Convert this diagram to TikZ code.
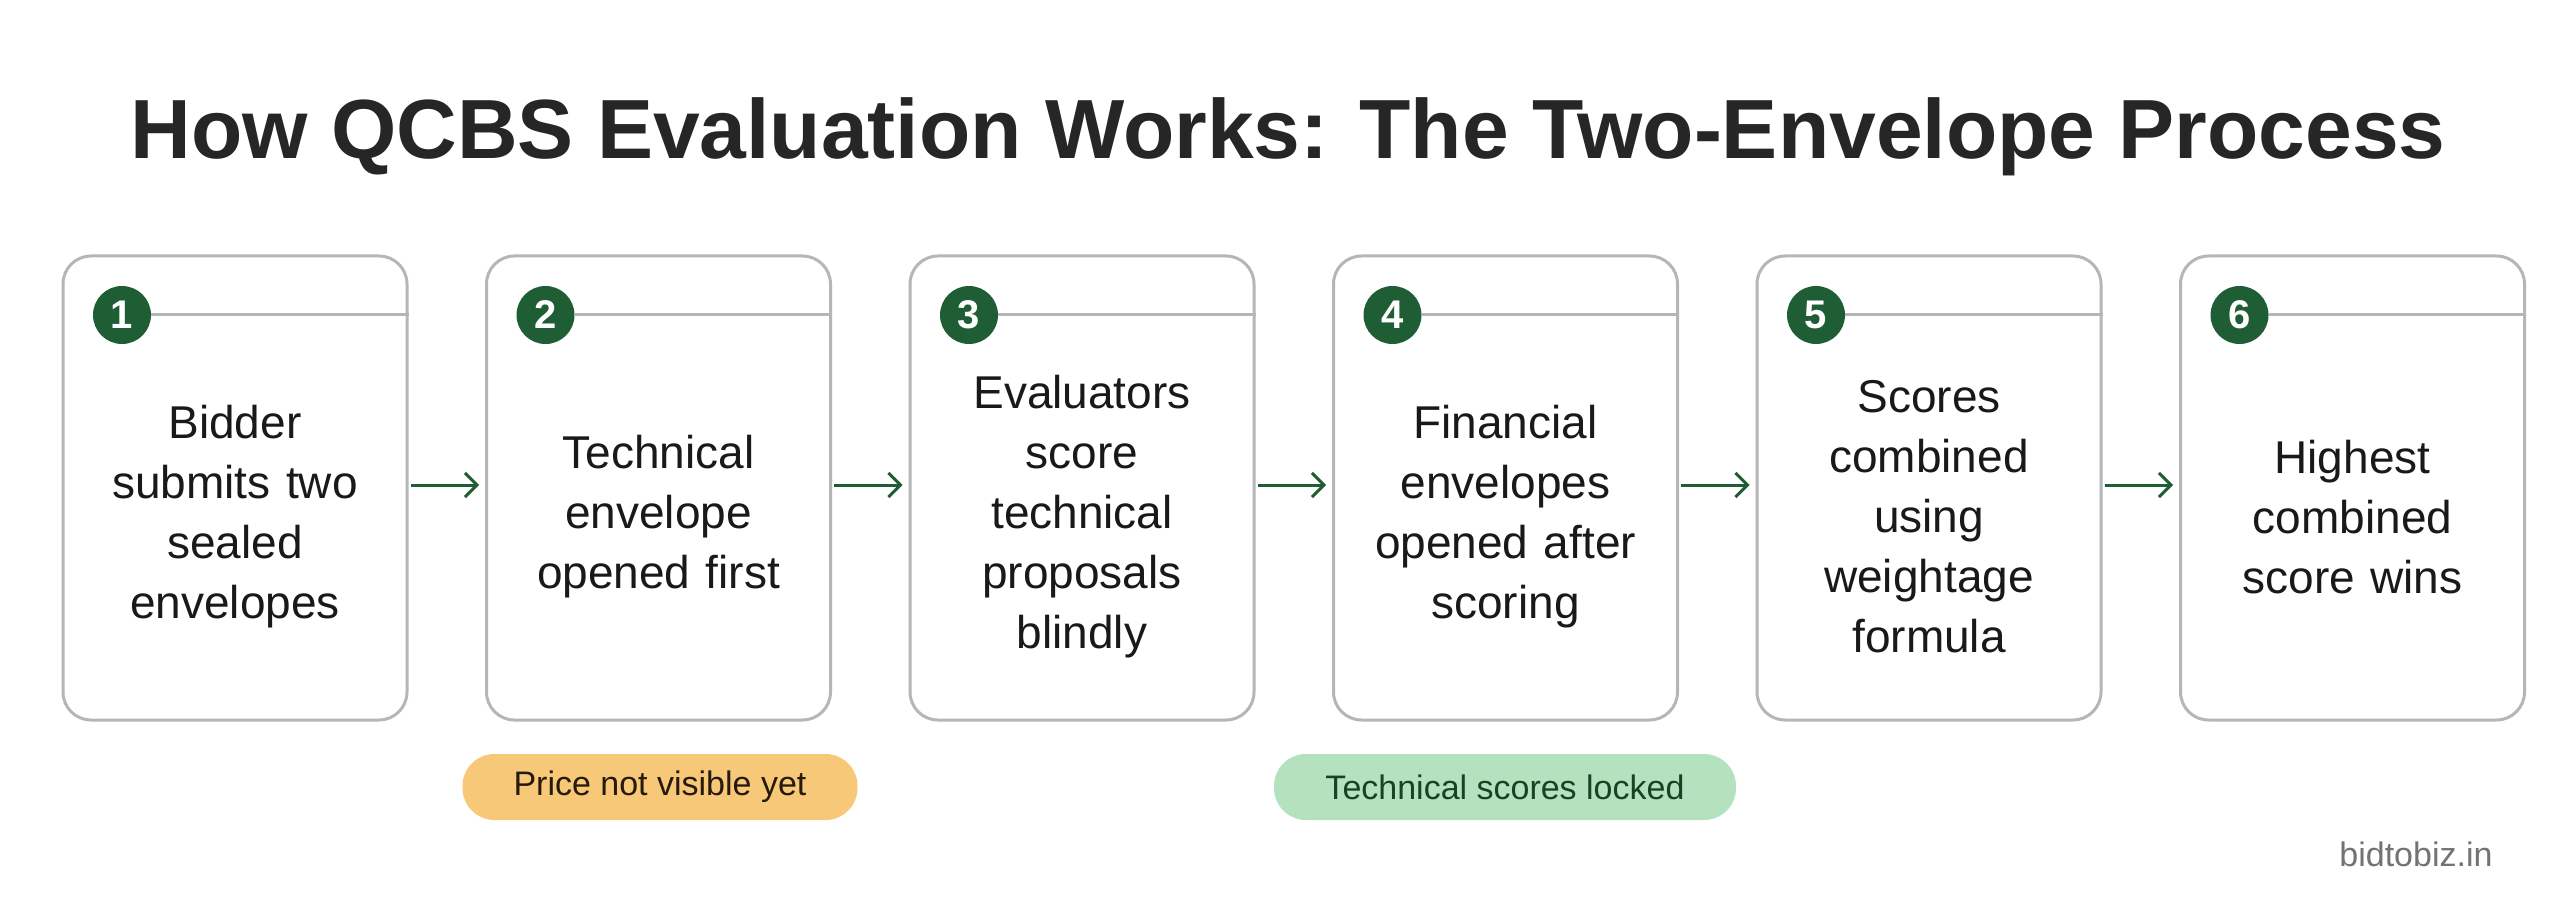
\documentclass[tikz,border=0pt]{standalone}
\usepackage{fontspec}
\setmainfont{Liberation Sans}
\usetikzlibrary{arrows.meta}
\definecolor{dg}{HTML}{1F5E35}
\definecolor{bx}{HTML}{B4B6B8}
\definecolor{org}{HTML}{F8C879}
\definecolor{grn}{HTML}{B5E2BE}
\begin{document}
\begin{tikzpicture}[x=1pt,y=-1pt,
  box/.style={draw=bx,line width=3pt,rounded corners=28pt,minimum width=344pt,minimum height=464pt,fill=white},
  num/.style={circle,fill=dg,minimum size=58pt,inner sep=0pt,text=white,font=\fontsize{40}{40}\selectfont\bfseries},
  body/.style={align=center,text width=330pt,font=\fontsize{46}{60}\selectfont,text=black!90},
  arr/.style={draw=dg,line width=3pt,-{Straight Barb[length=12pt,width=24pt,line width=3pt]}},
  pill/.style={rounded corners=32pt,minimum height=66pt,font=\fontsize{34}{34}\selectfont,inner xsep=22pt}]
\useasboundingbox[fill=white] (0,0) rectangle (2560,901);
\node[font=\fontsize{84}{84}\selectfont\bfseries,text=black!85] (title) at (1288,137) {How QCBS Evaluation Works: The Two-Envelope Process};
\foreach \i/\t in {1/{Bidder\\submits two\\sealed\\envelopes},2/{Technical\\envelope\\opened first},3/{Evaluators\\score\\technical\\proposals\\blindly},4/{Financial\\envelopes\\opened after\\scoring},5/{Scores\\combined\\using\\weightage\\formula},6/{Highest\\combined\\score wins}}{
  \pgfmathsetmacro{\cx}{235+(\i-1)*423.5}
  \node[box] (b\i) at (\cx,488) {};
  \node[num] (n\i) at (\cx-113,315) {\i};
  \draw[bx,line width=3pt] (n\i.east) -- (b\i.east |- n\i.east);
  \node[body] (t\i) at (\cx,517) {\t};
}
\foreach \i/\j in {1/2,2/3,3/4,4/5,5/6}{\draw[arr] ([xshift=2pt,yshift=3pt]b\i.east) -- ([xshift=-6pt,yshift=3pt]b\j.west);}
\node[pill,fill=org,text=black!80!brown,minimum width=395pt] (p1) at (660,787) {Price not visible yet};
\node[pill,fill=grn,text=dg!70!black,minimum width=462pt] (p2) at (1505,787) {Technical scores locked};
\node[anchor=east,text=gray!90!black,font=\fontsize{34}{34}\selectfont] (wm) at (2496,854) {bidtobiz.in};
\end{tikzpicture}
\end{document}
